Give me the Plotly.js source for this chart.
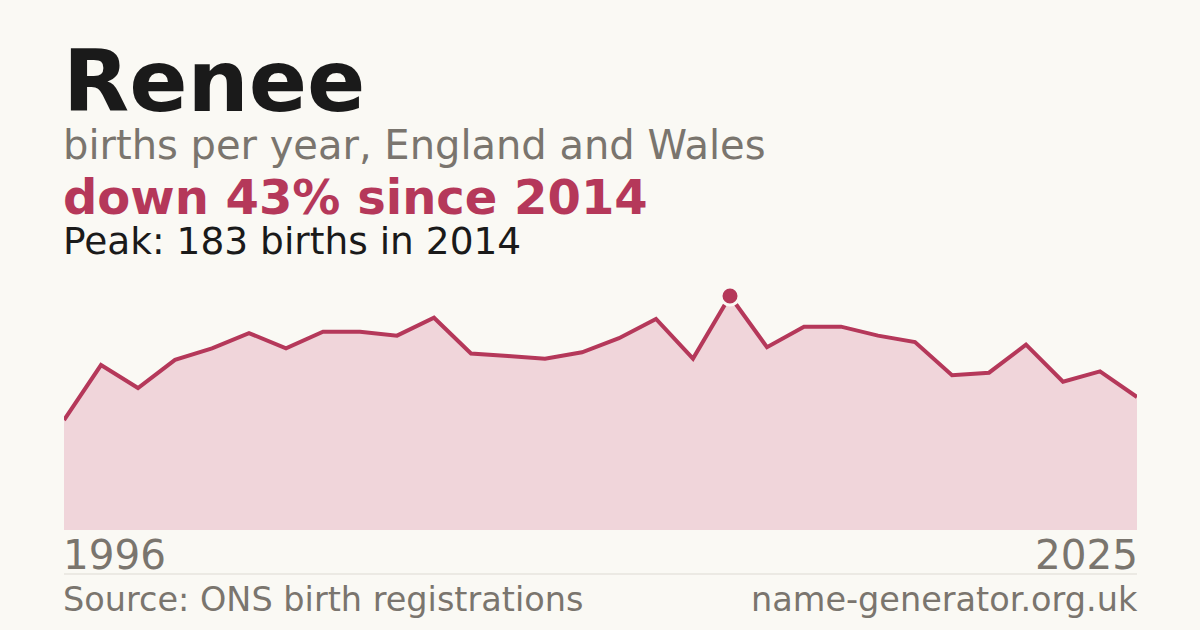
<!DOCTYPE html>
<html>
<head>
<meta charset="utf-8">
<script src="https://cdn.plot.ly/plotly-3.0.1.min.js"></script>
<style>
  html, body { margin: 0; padding: 0; background: #faf9f4; }
  #chart { width: 1200px; height: 630px; }
</style>
</head>
<body>
<div id="chart"></div>
<script>
// births per year for the name
const years = [1996, 1997, 1998, 1999, 2000, 2001, 2002, 2003, 2004, 2005,
               2006, 2007, 2008, 2009, 2010, 2011, 2012, 2013, 2014, 2015,
               2016, 2017, 2018, 2019, 2020, 2021, 2022, 2023, 2024, 2025];
const births = [86, 129, 111, 133, 142, 154, 142, 155, 155, 152,
                166, 138, 136, 134, 139, 150, 165, 134, 183, 143,
                159, 159, 152, 147, 121, 123, 145, 116, 124, 104];

const nameText = 'Renee';
const subText = 'births per year, England and Wales';
const sourceText = 'Source: ONS birth registrations';
const siteText = 'name-generator.org.uk';

const crimson = '#b5385a';
const grey = '#7a756e';
const bg = '#faf9f4';
const font = 'DejaVu Sans, sans-serif';

// peak and change since peak
const peakIdx = births.indexOf(Math.max(...births));
const peakYear = years[peakIdx];
const peakVal = births[peakIdx];
const lastVal = births[births.length - 1];
const change = Math.round((peakVal - lastVal) / peakVal * 100);

// plot area sits between y=280 and y=530 px, so map pixel rows to paper coords
const plotTop = 280, plotBottom = 530;
const py = (p) => (plotBottom - p) / (plotBottom - plotTop);

// left text gets pulled back by the annotation padding, right text pushed out
const ann = (text, yPix, size, color, opts = {}) => Object.assign({
    text: text,
    xref: 'paper', yref: 'paper',
    x: 0, y: py(yPix),
    xanchor: 'left', yanchor: 'middle',
    xshift: -3,
    showarrow: false,
    font: { family: font, size: size, color: color }
}, opts);

const area = {
    type: 'scatter',
    mode: 'lines',
    x: years,
    y: births,
    fill: 'tozeroy',
    fillcolor: '#f0d5da',
    line: { color: crimson, width: 4 },
    hoverinfo: 'skip',
    showlegend: false
};

const peak = {
    type: 'scatter',
    mode: 'markers',
    x: [peakYear],
    y: [peakVal],
    marker: { color: crimson, size: 18, line: { color: bg, width: 3 } },
    hoverinfo: 'skip',
    showlegend: false
};

const layout = {
    width: 1200,
    height: 630,
    paper_bgcolor: bg,
    plot_bgcolor: bg,
    margin: { l: 64, r: 63, t: plotTop, b: 630 - plotBottom, pad: 0 },
    xaxis: { range: [years[0], years[years.length - 1]], visible: false, fixedrange: true },
    yaxis: { range: [0, 195.5], visible: false, fixedrange: true },
    shapes: [{
        type: 'line', xref: 'paper', yref: 'paper',
        x0: 0, x1: 1, y0: py(574), y1: py(574),
        line: { color: '#dddad3', width: 1 }
    }],
    annotations: [
        ann('<b>' + nameText + '</b>', 81, 86, '#1a1a1a'),
        ann(subText, 145, 40, grey),
        ann('<b>down ' + change + '% since ' + peakYear + '</b>', 197, 48, crimson),
        ann('Peak: ' + peakVal + ' births in ' + peakYear, 241, 37.5, '#1a1a1a'),
        ann(String(years[0]), 555, 40.5, grey),
        ann(String(years[years.length - 1]), 555, 40.5, grey, { x: 1, xanchor: 'right', xshift: 3 }),
        ann(sourceText, 599, 33.5, grey),
        ann(siteText, 599, 33.5, grey, { x: 1, xanchor: 'right', xshift: 3 })
    ]
};

Plotly.newPlot('chart', [area, peak], layout, { displayModeBar: false, staticPlot: true });
</script>
</body>
</html>
